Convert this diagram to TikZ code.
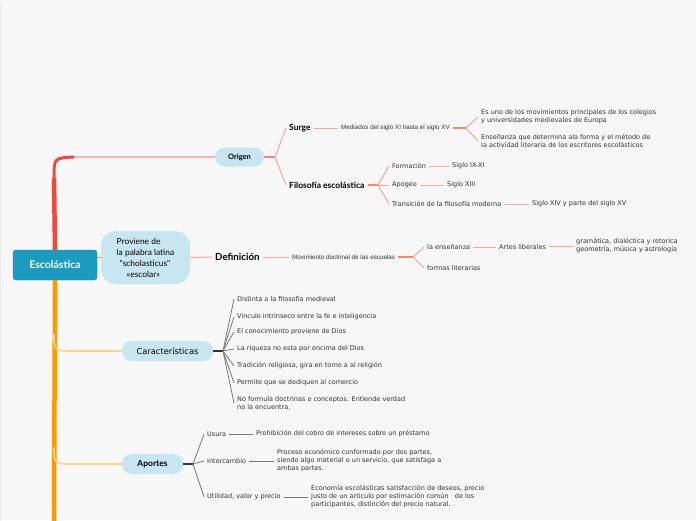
\documentclass[tikz,border=0pt]{standalone}
\usepackage{fontspec}
\setmainfont{DejaVu Sans}
\newfontfamily\latofont{Lato}
\newfontfamily\narrowfont{Liberation Sans}
\usepackage{xcolor}
\definecolor{escBg}{HTML}{F7F7F7}
\definecolor{escGrid}{HTML}{EDEDED}
\definecolor{escRoot}{HTML}{1B9BBF}
\definecolor{escTopic}{HTML}{C7E6F1}
\definecolor{escText}{HTML}{333333}
\definecolor{escRed}{HTML}{F0493B}
\definecolor{escPink}{HTML}{F7B5AB}
\definecolor{escSalmon}{HTML}{F6A796}
\definecolor{escSalmonDark}{HTML}{F28A70}
\definecolor{escOrange}{HTML}{FF9800}
\definecolor{escOrangeLight}{HTML}{FFD28A}
\definecolor{escDark}{HTML}{333333}
\definecolor{escGray}{HTML}{7A7A7A}
\usetikzlibrary{positioning}

\begin{document}
\begin{tikzpicture}[x=1pt,y=-1pt,font=\fontsize{6.5}{8}\selectfont]
  \tikzset{
    rootbox/.style={
      fill=escRoot,
      draw=escRoot!85!black,
      rounded corners=3pt,
      minimum width=84pt,
      minimum height=30pt,
      text=white,
      font=\latofont\bfseries\fontsize{10.5}{12}\selectfont
    },
    topicbox/.style={
      fill=escTopic,
      rounded corners=9.5pt,
      minimum height=20pt,
      inner sep=0pt,
      text=black,
      font=\latofont\bfseries\fontsize{8.5}{10}\selectfont
    },
    subtitle/.style={anchor=west, inner xsep=3pt, inner ysep=1pt, text=black,
      font=\latofont\bfseries\fontsize{8.5}{10}\selectfont},
    leaf/.style={anchor=west, inner xsep=3pt, inner ysep=1pt, align=left, text=escText,
      font=\fontsize{6.5}{8}\selectfont},
    narrowleaf/.style={leaf, font=\narrowfont\fontsize{6.3}{8}\selectfont},
    redlink/.style={escSalmon, line width=1pt},
    redstub/.style={escSalmonDark, line width=2.2pt},
    darkstub/.style={escDark, line width=2pt},
    graylink/.style={escGray, line width=0.8pt}
  }
  % background
  \path[use as bounding box,fill=escBg] (0,0) rectangle (696,520);
  \draw[escGrid,line width=0.6pt,xstep=1000,ystep=10,yshift=-1pt] (0,0) grid (696,520);

  % root and trunk
  \node[rootbox] (root) at (55,265) {Escolástica};
  \coordinate (trunkTop) at (54,178);
  \coordinate (origTurn) at (74,157);
  \coordinate (trunkEnd) at (54,521);
  \coordinate (caracTurn) at (54,334);
  \coordinate (caracBend) at (74,351);
  \coordinate (aporTurn) at (54,447);
  \coordinate (aporBend) at (74,464);
  \draw[escRed,line width=4.5pt] (root.north) -- (trunkTop);
  \draw[escRed,line width=3pt] (trunkTop) .. controls (54,158) .. (origTurn);
  \draw[escOrange,line width=4.5pt] (root.south) -- (trunkEnd);

  % Origen
  \node[topicbox,minimum width=49pt,minimum height=19pt,font=\latofont\bfseries\fontsize{7.5}{9}\selectfont] (origen) at (239.5,157) {Origen};
  \draw[escPink,line width=1.6pt] (origTurn) -- (origen);
  \coordinate (origJ) at (275,157);
  \draw[redstub] (origen.east) -- (origJ);
  \node[subtitle] (surge) at (286,128) {Surge};
  \node[subtitle] (filo) at (286,185) {Filosofía escolástica};
  \draw[redlink] (origJ) -- (surge.west);
  \draw[redlink] (origJ) -- (filo.west);

  \node[narrowleaf] (mediados) at (338,128) {Mediados del siglo XI hasta el siglo XV};
  \draw[redlink] (surge.east) -- (mediados.west);
  \coordinate (medJ) at (466,128);
  \draw[redstub] (mediados.east) -- (medJ);
  \node[leaf] (movim) at (478,117) {Es uno de los movimientos principales de los colegios\\y universidades medievales de Europa};
  \node[leaf] (ensen) at (478,141) {Enseñanza que determina ala forma y el método de\\la actividad literaria de los escritores escolásticos};
  \draw[redlink] (medJ) -- (movim.west);
  \draw[redlink] (medJ) -- (ensen.west);

  \coordinate (filoJ) at (378,185);
  \draw[redstub] (filo.east) -- (filoJ);
  \node[leaf] (formacion) at (389,166) {Formación};
  \node[leaf] (apogeo) at (389,185) {Apogeo};
  \node[leaf] (transicion) at (389,204) {Transición de la filosofía moderna};
  \draw[redlink] (filoJ) -- (formacion.west);
  \draw[redlink] (filoJ) -- (apogeo.west);
  \draw[redlink] (filoJ) -- (transicion.west);
  \node[leaf] (sigloIX) at (449,166) {Siglo IX-XI};
  \node[leaf] (sigloXIII) at (444,185) {Siglo XIII};
  \node[leaf] (sigloXIV) at (529,204) {Siglo XIV y parte del siglo XV};
  \draw[redlink] (formacion) -- (sigloIX);
  \draw[redlink] (apogeo) -- (sigloXIII);
  \draw[redlink] (transicion) -- (sigloXIV);

  % Definicion
  \node[topicbox,minimum width=89pt,minimum height=53pt,rounded corners=15pt,align=left,
    font=\latofont\fontsize{8.4}{11}\selectfont] (prov) at (145.5,257.5)
    {Proviene de\\la palabra latina\\\hspace{3pt}"scholasticus"\\\hspace{10pt}«escolar»};
  \draw[escOrange,line width=1pt] (root.east |- prov.west) -- (prov.west);
  \node[subtitle,font=\latofont\bfseries\fontsize{9.7}{11}\selectfont] (defin) at (212,257) {Definición};
  \draw[redlink] (prov.east) -- (defin.west);
  \node[narrowleaf] (doctrinal) at (289,257) {Movimiento doctrinal de las escuelas};
  \draw[redlink] (defin) -- (doctrinal);
  \coordinate (defJ) at (413,257);
  \draw[redstub] (doctrinal.east) -- (defJ);
  \node[leaf] (lasensen) at (424,247) {la enseñanza};
  \node[leaf] (formas) at (424,268) {formas literarias};
  \draw[redlink] (defJ) -- (lasensen.west);
  \draw[redlink] (defJ) -- (formas.west);
  \node[leaf] (artes) at (496,247) {Artes liberales};
  \node[leaf] (gramatica) at (573,246) {gramática, dialéctica y retorica\\geometría, música y astrología};
  \draw[redlink] (lasensen) -- (artes);
  \draw[redlink] (artes) -- (gramatica);

  % Caracteristicas
  \node[topicbox,minimum width=91pt,font=\fontsize{8.3}{9}\selectfont] (carac) at (167.5,351) {Características};
  \draw[escOrangeLight,line width=1.6pt] (caracTurn) .. controls (54,351) .. (caracBend) -- (carac);
  \coordinate (caracJ) at (223,351);
  \draw[darkstub] (carac.east) -- (caracJ);
  \node[leaf] (car1) at (234,299) {Distinta a la filosofía medieval};
  \node[leaf] (car2) at (234,317) {Vinculo intrínseco entre la fe e inteligencia};
  \node[leaf] (car3) at (234,332) {El conocimiento proviene de Dios};
  \node[leaf] (car4) at (234,349) {La riqueza no esta por encima del Dios};
  \node[leaf] (car5) at (234,366) {Tradición religiosa, gira en torno a al religión};
  \node[leaf] (car6) at (234,383) {Permite que se dediquen al comercio};
  \node[leaf] (car7) at (234,403) {No formula doctrinas o conceptos. Entiende verdad\\no la encuentra.};
  \draw[graylink] (caracJ) -- (car1.west);
  \draw[graylink] (caracJ) -- (car2.west);
  \draw[graylink] (caracJ) -- (car3.west);
  \draw[graylink] (caracJ) -- (car4.west);
  \draw[graylink] (caracJ) -- (car5.west);
  \draw[graylink] (caracJ) -- (car6.west);
  \draw[graylink] (caracJ) -- (car7.west);

  % Aportes
  \node[topicbox,minimum width=61pt] (aportes) at (152.5,464) {Aportes};
  \draw[escOrangeLight,line width=1.6pt] (aporTurn) .. controls (54,464) .. (aporBend) -- (aportes);
  \coordinate (aporJ) at (193,464);
  \draw[darkstub] (aportes.east) -- (aporJ);
  \node[leaf] (usura) at (204,434) {Usura};
  \node[leaf] (interc) at (204,461) {Intercambio};
  \node[leaf] (utilidad) at (204,497) {Utilidad, valor y precio};
  \draw[graylink] (aporJ) -- (usura.west);
  \draw[graylink] (aporJ) -- (interc.west);
  \draw[graylink] (aporJ) -- (utilidad.west);
  \node[leaf] (prohib) at (253,434) {Prohibición del cobro de intereses sobre un préstamo};
  \node[leaf] (proceso) at (274,461) {Proceso económico conformado por dos partes,\\siendo algo material o un servicio, que satisfaga a\\ambas partes.};
  \node[leaf] (economia) at (308,497) {Economía escolásticas satisfacción de deseos, precio\\justo de un articulo por estimación común \ \ de los\\participantes, distinción del precio natural.};
  \draw[graylink] (usura) -- (prohib);
  \draw[graylink] (interc) -- (proceso);
  \draw[graylink] (utilidad) -- (economia);
\end{tikzpicture}
\end{document}
